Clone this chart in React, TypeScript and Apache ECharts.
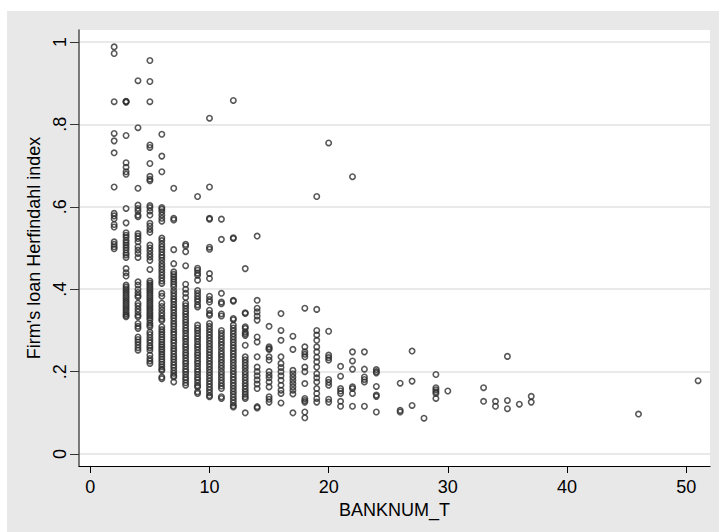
import React, { useEffect, useRef } from "react";
import * as echarts from "echarts";

// Firm's loan Herfindahl index by number of banks (BANKNUM_T)
const bank2 = [0.988, 0.972, 0.855, 0.778, 0.76, 0.731, 0.648, 0.584, 0.578, 0.571, 0.557, 0.551, 0.515, 0.509, 0.503, 0.498];
const bank3 = [0.856, 0.855, 0.854, 0.773, 0.707, 0.696, 0.685, 0.679, 0.596, 0.561, 0.537, 0.531, 0.526, 0.519, 0.513, 0.507, 0.501, 0.495, 0.488, 0.483, 0.477, 0.45, 0.44, 0.432, 0.41, 0.405, 0.4, 0.395, 0.39, 0.385, 0.38, 0.375, 0.37, 0.365, 0.36, 0.355, 0.35, 0.345, 0.34, 0.336, 0.333];
const bank4 = [0.906, 0.792, 0.645, 0.604, 0.596, 0.59, 0.58, 0.576, 0.535, 0.529, 0.523, 0.515, 0.503, 0.495, 0.487, 0.477, 0.418, 0.41, 0.4, 0.392, 0.385, 0.381, 0.366, 0.36, 0.352, 0.345, 0.337, 0.333, 0.317, 0.31, 0.305, 0.284, 0.278, 0.272, 0.265, 0.258, 0.252];
const bank5 = [0.955, 0.904, 0.855, 0.75, 0.744, 0.705, 0.674, 0.667, 0.663, 0.603, 0.598, 0.59, 0.58, 0.56, 0.553, 0.545, 0.538, 0.507, 0.5, 0.493, 0.485, 0.478, 0.47, 0.448, 0.42, 0.415, 0.41, 0.405, 0.4, 0.395, 0.39, 0.385, 0.38, 0.375, 0.37, 0.365, 0.36, 0.355, 0.35, 0.345, 0.34, 0.335, 0.33, 0.325, 0.318, 0.313, 0.309, 0.296, 0.29, 0.283, 0.276, 0.27, 0.263, 0.258, 0.252, 0.24, 0.232, 0.226, 0.22];
const bank6 = [0.776, 0.723, 0.685, 0.598, 0.594, 0.588, 0.58, 0.572, 0.565, 0.524, 0.518, 0.51, 0.503, 0.497, 0.49, 0.483, 0.477, 0.47, 0.462, 0.455, 0.448, 0.441, 0.434, 0.427, 0.42, 0.414, 0.39, 0.383, 0.366, 0.358, 0.35, 0.342, 0.335, 0.328, 0.324, 0.309, 0.302, 0.296, 0.29, 0.284, 0.278, 0.272, 0.266, 0.26, 0.254, 0.248, 0.242, 0.236, 0.23, 0.224, 0.218, 0.212, 0.206, 0.203, 0.187, 0.183];
const bank7 = [0.645, 0.572, 0.568, 0.496, 0.462, 0.442, 0.436, 0.43, 0.424, 0.418, 0.412, 0.406, 0.397, 0.39, 0.383, 0.376, 0.37, 0.363, 0.356, 0.35, 0.343, 0.336, 0.33, 0.323, 0.316, 0.31, 0.303, 0.296, 0.29, 0.283, 0.276, 0.27, 0.263, 0.256, 0.25, 0.243, 0.236, 0.23, 0.223, 0.216, 0.21, 0.203, 0.196, 0.19, 0.187, 0.175];
const bank8 = [0.509, 0.505, 0.491, 0.457, 0.412, 0.4, 0.39, 0.38, 0.366, 0.36, 0.353, 0.346, 0.34, 0.333, 0.326, 0.32, 0.313, 0.306, 0.3, 0.293, 0.286, 0.28, 0.273, 0.266, 0.26, 0.253, 0.246, 0.24, 0.233, 0.226, 0.22, 0.213, 0.206, 0.2, 0.193, 0.186, 0.18, 0.173, 0.167];
const bank9 = [0.625, 0.451, 0.446, 0.439, 0.434, 0.422, 0.397, 0.39, 0.383, 0.376, 0.37, 0.362, 0.357, 0.313, 0.306, 0.3, 0.293, 0.286, 0.28, 0.273, 0.266, 0.26, 0.253, 0.246, 0.24, 0.233, 0.226, 0.22, 0.213, 0.206, 0.2, 0.193, 0.186, 0.18, 0.173, 0.166, 0.163, 0.151, 0.147];
const bank10 = [0.815, 0.648, 0.572, 0.57, 0.502, 0.497, 0.438, 0.426, 0.383, 0.375, 0.369, 0.349, 0.341, 0.337, 0.317, 0.31, 0.303, 0.296, 0.289, 0.282, 0.275, 0.268, 0.261, 0.254, 0.247, 0.24, 0.233, 0.226, 0.219, 0.212, 0.205, 0.198, 0.191, 0.184, 0.177, 0.17, 0.163, 0.156, 0.149, 0.142, 0.139];
const bank11 = [0.57, 0.521, 0.39, 0.369, 0.365, 0.34, 0.335, 0.3, 0.293, 0.286, 0.279, 0.272, 0.265, 0.258, 0.25, 0.243, 0.236, 0.229, 0.222, 0.215, 0.208, 0.2, 0.193, 0.186, 0.179, 0.172, 0.165, 0.159, 0.139, 0.135];
const bank12 = [0.858, 0.525, 0.523, 0.373, 0.371, 0.329, 0.326, 0.313, 0.306, 0.299, 0.292, 0.285, 0.278, 0.271, 0.264, 0.257, 0.25, 0.243, 0.236, 0.229, 0.222, 0.215, 0.208, 0.201, 0.194, 0.187, 0.18, 0.173, 0.166, 0.159, 0.152, 0.145, 0.138, 0.131, 0.124, 0.117, 0.114];
const bank13 = [0.45, 0.343, 0.341, 0.309, 0.305, 0.296, 0.292, 0.288, 0.264, 0.236, 0.229, 0.222, 0.215, 0.208, 0.2, 0.193, 0.186, 0.179, 0.172, 0.165, 0.158, 0.151, 0.145, 0.139, 0.135, 0.1];
const bank14 = [0.529, 0.373, 0.354, 0.345, 0.335, 0.325, 0.284, 0.272, 0.236, 0.211, 0.2, 0.19, 0.18, 0.17, 0.159, 0.115, 0.112];
const bank15 = [0.31, 0.26, 0.256, 0.254, 0.236, 0.228, 0.2, 0.192, 0.185, 0.175, 0.163, 0.139, 0.133, 0.126];
const bank16 = [0.341, 0.3, 0.276, 0.236, 0.22, 0.21, 0.2, 0.19, 0.179, 0.167, 0.155, 0.147, 0.124];
const bank17 = [0.286, 0.254, 0.203, 0.195, 0.187, 0.179, 0.171, 0.163, 0.155, 0.146, 0.1];
const bank18 = [0.354, 0.26, 0.248, 0.242, 0.236, 0.211, 0.2, 0.171, 0.135, 0.13, 0.126, 0.102, 0.088];
const bank19 = [0.625, 0.351, 0.3, 0.289, 0.276, 0.26, 0.248, 0.235, 0.224, 0.211, 0.195, 0.185, 0.175, 0.159, 0.147, 0.135, 0.126];
const bank20 = [0.755, 0.298, 0.24, 0.234, 0.228, 0.181, 0.174, 0.167, 0.133, 0.126];
const bank21 = [0.213, 0.189, 0.159, 0.153, 0.147, 0.128, 0.116];
const bank22 = [0.673, 0.248, 0.226, 0.206, 0.163, 0.159, 0.147, 0.116];
const bank23 = [0.248, 0.206, 0.187, 0.181, 0.175, 0.116];
const bank24 = [0.205, 0.2, 0.197, 0.164, 0.143, 0.14, 0.102];
const bank26 = [0.172, 0.106, 0.102];
const bank27 = [0.25, 0.177, 0.118];
const bank28 = [0.087];
const bank29 = [0.193, 0.161, 0.156, 0.151, 0.147, 0.135];
const bank30 = [0.153];
const bank33 = [0.161, 0.128];
const bank34 = [0.128, 0.116];
const bank35 = [0.237, 0.13, 0.11];
const bank36 = [0.121];
const bank37 = [0.14, 0.126];
const bank46 = [0.097];
const bank51 = [0.178];

const bankCounts = [2, 3, 4, 5, 6, 7, 8, 9, 10, 11, 12, 13, 14, 15, 16, 17, 18, 19, 20, 21, 22, 23, 24, 26, 27, 28, 29, 30, 33, 34, 35, 36, 37, 46, 51];
const herfindahlColumns = [bank2, bank3, bank4, bank5, bank6, bank7, bank8, bank9, bank10, bank11, bank12, bank13, bank14, bank15, bank16, bank17, bank18, bank19, bank20, bank21, bank22, bank23, bank24, bank26, bank27, bank28, bank29, bank30, bank33, bank34, bank35, bank36, bank37, bank46, bank51];

const xTicks = [0, 10, 20, 30, 40, 50];
const yTicks = [0, 0.2, 0.4, 0.6, 0.8, 1];

const FONT = "'Liberation Sans', Arial, Helvetica, sans-serif";

export default function App() {
  const ref = useRef<HTMLDivElement>(null);

  useEffect(() => {
    if (!ref.current) return;
    const chart = echarts.init(ref.current, null, { renderer: "svg" });
    const points: number[][] = [];
    bankCounts.forEach((b, i) => {
      herfindahlColumns[i].forEach((v) => points.push([b, v]));
    });
    const fmtY = (v: number) => {
      if (v === 0) return "0";
      if (v === 1) return "1";
      return String(Math.round(v * 10) / 10).replace(/^0/, "");
    };
    chart.setOption({
      animation: false,
      backgroundColor: "transparent",
      textStyle: { fontFamily: FONT },
      grid: {
        left: 72,
        top: 19,
        right: 9,
        bottom: 66,
        show: true,
        backgroundColor: "#ffffff",
        borderWidth: 0,
        borderColor: "transparent",
        containLabel: false,
      },
      xAxis: {
        type: "value",
        min: -0.95,
        max: 52,
        name: "BANKNUM_T",
        nameLocation: "middle",
        nameGap: 28,
        nameTextStyle: { fontSize: 18, color: "#000", fontFamily: FONT },
        axisLine: { show: true, onZero: false, lineStyle: { color: "#000", width: 1.2 } },
        axisTick: { show: true, length: 7, customValues: xTicks, lineStyle: { color: "#000", width: 1 } },
        axisLabel: { customValues: xTicks, fontSize: 18, color: "#000", margin: 12, fontFamily: FONT },
        splitLine: { show: false },
      },
      yAxis: {
        type: "value",
        min: -0.029,
        max: 1.029,
        splitNumber: 5,
        name: "Firm's loan Herfindahl index",
        nameLocation: "middle",
        nameGap: 33,
        nameTextStyle: { fontSize: 18, color: "#000", fontFamily: FONT },
        axisLine: { show: true, onZero: false, lineStyle: { color: "#5a5a5a", width: 1.6 } },
        axisTick: { show: true, length: 9, customValues: yTicks, lineStyle: { color: "#333", width: 1 } },
        axisLabel: {
          customValues: yTicks,
          rotate: 90,
          fontSize: 18,
          color: "#000",
          margin: 10,
          fontFamily: FONT,
          formatter: fmtY,
        },
        splitLine: { show: true, lineStyle: { color: "#e2e2e2", width: 1.6 } },
      },
      series: [
        {
          type: "scatter",
          data: points,
          symbol: "circle",
          symbolSize: 5.4,
          itemStyle: { color: "rgba(0,0,0,0)", borderColor: "#2e2e2e", borderWidth: 1.6 },
          emphasis: { disabled: true },
        },
      ],
    });
    return () => chart.dispose();
  }, []);

  return (
    <div style={{ position: "fixed", left: 7, top: 11, width: 712, height: 521, background: "#e8e8e8" }}>
      <div ref={ref} style={{ width: 712, height: 521 }} />
    </div>
  );
}
